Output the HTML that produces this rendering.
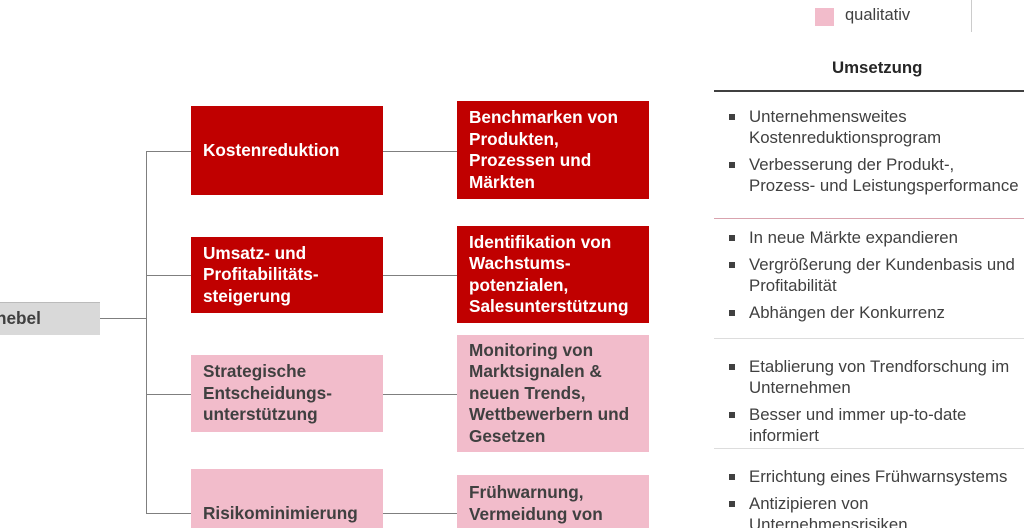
<!DOCTYPE html>
<html style="overflow:hidden;height:528px"><head><meta charset="utf-8"><style>
body{margin:0;width:1024px;height:528px;overflow:hidden;background:#fff;font-family:"Liberation Sans",Arial,sans-serif;position:relative}
.a{position:absolute}
.b{position:absolute;box-sizing:border-box;padding-left:12px;display:flex;align-items:center;font-weight:bold;font-size:17.2px;line-height:21.5px;white-space:nowrap}
.r{background:#c00000;color:#fff}
.p{background:#f2bccb;color:#404040}
.h{position:absolute;height:1px;background:#7f7f7f}
.t{position:absolute;left:728px;font-size:16.8px;line-height:21px;color:#404040;white-space:nowrap}
.t div{position:relative;padding-left:21px;margin-bottom:6px}
.t div:before{content:"";position:absolute;left:1px;top:8px;width:6px;height:6px;background:#404040}
.sep{position:absolute;left:714px;width:310px;height:1px}
</style></head><body>
<div class="a" style="left:815px;top:8px;width:19px;height:18px;background:#f2bccb"></div>
<div class="a" style="left:845px;top:6px;font-size:16.5px;color:#404040">qualitativ</div>
<div class="a" style="left:971px;top:0;width:1px;height:32px;background:#ccc"></div>
<div class="a" style="left:832px;top:58px;font-size:16.8px;font-weight:bold;color:#262626">Umsetzung</div>
<div class="sep" style="top:90px;height:2px;background:#404040"></div>
<div class="sep" style="top:218px;background:#d9a3ae"></div>
<div class="sep" style="top:338px;background:#ddd"></div>
<div class="sep" style="top:448px;background:#ddd"></div>

<div class="a" style="left:0;top:302px;width:100px;height:33px;background:#d9d9d9;border-top:1px solid #bbb;box-sizing:border-box"></div>
<div class="a" style="left:-4px;top:308px;font-weight:bold;font-size:17.2px;color:#404040">hebel</div>
<div class="h" style="left:100px;top:318px;width:47px"></div>
<div class="a" style="left:146px;top:151px;width:1px;height:363px;background:#7f7f7f"></div>
<div class="h" style="left:146px;top:151px;width:45px"></div>
<div class="h" style="left:146px;top:275px;width:45px"></div>
<div class="h" style="left:146px;top:394px;width:45px"></div>
<div class="h" style="left:146px;top:513px;width:45px"></div>
<div class="h" style="left:383px;top:151px;width:74px"></div>
<div class="h" style="left:383px;top:275px;width:74px"></div>
<div class="h" style="left:383px;top:394px;width:74px"></div>
<div class="h" style="left:383px;top:513px;width:74px"></div>

<div class="b r" style="left:191px;top:106px;width:192px;height:89px">Kostenreduktion</div>
<div class="b r" style="left:191px;top:237px;width:192px;height:76px">Umsatz- und<br>Profitabilitäts-<br>steigerung</div>
<div class="b p" style="left:191px;top:355px;width:192px;height:77px">Strategische<br>Entscheidungs-<br>unterstützung</div>
<div class="b p" style="left:191px;top:469px;width:192px;height:59px;align-items:flex-start;padding-top:34px">Risikominimierung</div>

<div class="b r" style="left:457px;top:101px;width:192px;height:98px">Benchmarken von<br>Produkten,<br>Prozessen und<br>Märkten</div>
<div class="b r" style="left:457px;top:226px;width:192px;height:97px">Identifikation von<br>Wachstums-<br>potenzialen,<br>Salesunterstützung</div>
<div class="b p" style="left:457px;top:335px;width:192px;height:117px">Monitoring von<br>Marktsignalen &amp;<br>neuen Trends,<br>Wettbewerbern und<br>Gesetzen</div>
<div class="b p" style="left:457px;top:475px;width:192px;height:53px;align-items:flex-start;padding-top:7px">Frühwarnung,<br>Vermeidung von</div>

<div class="t" style="top:106px"><div>Unternehmensweites<br>Kostenreduktionsprogram</div><div>Verbesserung der Produkt-,<br>Prozess- und Leistungsperformance</div></div>
<div class="t" style="top:227px"><div>In neue Märkte expandieren</div><div>Vergrößerung der Kundenbasis und<br>Profitabilität</div><div>Abhängen der Konkurrenz</div></div>
<div class="t" style="top:356px"><div>Etablierung von Trendforschung im<br>Unternehmen</div><div>Besser und immer up-to-date<br>informiert</div></div>
<div class="t" style="top:466px"><div>Errichtung eines Frühwarnsystems</div><div>Antizipieren von<br>Unternehmensrisiken</div></div>
</body></html>
